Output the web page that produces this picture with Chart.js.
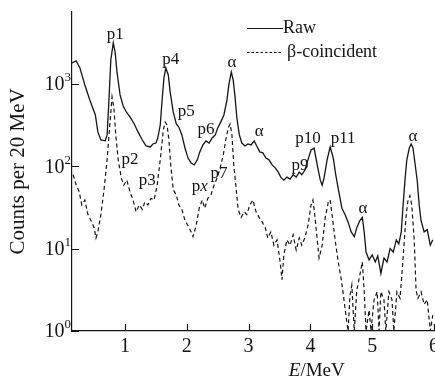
<!DOCTYPE html>
<html>
<head>
<meta charset="utf-8">
<script src="https://cdn.jsdelivr.net/npm/chart.js@4.4.0/dist/chart.umd.min.js"></script>
<style>
  html, body { margin: 0; padding: 0; background: #fff; overflow: hidden; }
</style>
</head>
<body>
<canvas id="spectrum" width="435" height="379"></canvas>
<script>
// raw spectrum (E in MeV, counts per 20 MeV)
const rawEnergy = [0.14,0.21,0.27,0.35,0.43,0.52,0.56,0.61,0.68,0.71,0.74,0.77,0.81,0.84,0.87,0.92,0.97,1.02,1.08,1.15,
  1.21,1.28,1.34,1.41,1.45,1.50,1.53,1.57,1.60,1.63,1.66,1.70,1.73,1.78,1.83,1.87,1.92,1.97,2.02,2.07,
  2.12,2.17,2.21,2.26,2.31,2.36,2.41,2.46,2.50,2.55,2.60,2.65,2.68,2.72,2.75,2.78,2.81,2.85,2.89,2.94,
  2.99,3.04,3.09,3.14,3.18,3.23,3.28,3.33,3.38,3.43,3.48,3.52,3.57,3.62,3.67,3.72,3.77,3.82,3.86,3.91,
  3.96,4.01,4.06,4.11,4.16,4.19,4.22,4.27,4.32,4.37,4.41,4.46,4.51,4.56,4.61,4.66,4.71,4.75,4.80,4.84,
  4.87,4.90,4.95,5.00,5.05,5.09,5.14,5.19,5.24,5.29,5.34,5.39,5.43,5.47,5.50,5.53,5.56,5.60,5.63,5.66,
  5.69,5.73,5.76,5.79,5.84,5.89,5.94,5.98];
const rawCounts = [1800,1910,1570,975,641,421,262,209,204,241,641,1960,3160,2450,1400,737,542,458,398,327,
  262,209,177,172,187,192,221,318,641,1186,1570,1290,802,458,327,301,241,167,126,110,
  104,120,150,182,204,192,221,241,293,347,421,641,975,1400,1122,697,387,241,192,177,
  187,182,204,172,150,146,126,120,104,96,85,74,68,74,70,79,74,85,79,90,
  120,158,167,104,68,59,72,120,172,126,79,49,31,26,21,16,14,18,22,24,
  16,9.1,7.3,8.4,6.9,8.2,5.0,7.7,6.9,10,9.1,12.8,11.4,16,34,68,120,167,187,167,
  113,65,34,22,16,17,11,12.8];

// beta-coincident spectrum (1 = empty channel, sits on the axis)
const betaEnergy = [0.16,0.21,0.26,0.30,0.35,0.40,0.45,0.50,0.53,0.56,0.61,0.66,0.71,0.76,0.79,0.82,0.85,0.89,0.94,0.98,
  1.03,1.08,1.13,1.18,1.23,1.28,1.32,1.37,1.42,1.47,1.52,1.57,1.62,1.65,1.68,1.71,1.74,1.78,1.83,1.87,
  1.92,1.97,2.02,2.07,2.10,2.15,2.20,2.25,2.29,2.34,2.39,2.44,2.49,2.54,2.59,2.63,2.67,2.70,2.73,2.76,
  2.80,2.83,2.88,2.93,2.97,3.02,3.07,3.12,3.17,3.22,3.27,3.31,3.36,3.41,3.46,3.51,3.54,3.57,3.62,3.67,
  3.72,3.77,3.82,3.86,3.91,3.96,4.01,4.04,4.07,4.11,4.14,4.19,4.24,4.29,4.32,4.35,4.40,4.45,4.50,4.54,
  4.58,4.61,4.64,4.67,4.71,4.75,4.80,4.84,4.87,4.90,4.95,4.98,5.03,5.08,5.11,5.14,5.19,5.22,5.27,5.32,
  5.35,5.40,5.45,5.48,5.52,5.55,5.58,5.61,5.64,5.68,5.71,5.74,5.79,5.84,5.89,5.94,5.98];
const betaCounts = [79,59,49,34,39,26,22,18,13.5,16,26,52,120,366,697,513,241,120,72,59,
  68,49,39,28,34,30,37,34,41,39,59,120,277,346,318,209,104,52,45,34,
  30,22,19,16,14,19,31,39,31,41,45,59,72,96,138,209,293,327,241,104,
  52,30,24,28,26,34,39,28,24,21,18,13.5,16,11,12.8,6.9,4.2,8.4,12.8,11,
  14.7,9.6,13.5,11,13.5,19,34,39,26,12.8,7.7,11,24,37,39,26,12.8,6.9,4.2,2.5,
  1.44,1,2.7,3.6,1,3.1,4.8,6.9,3.1,1,1.8,1,2.4,3.0,1,3.0,2.4,1,3.0,2.4,
  1,3.0,2.5,4.8,12.8,26,39,44,34,12.8,3.1,2.5,3.0,2.1,2.4,1,1.56];

const xTickValues = [1, 2, 3, 4, 5, 6];
const yTickExponents = [0, 1, 2, 3];

// peak annotations, placed in data units
const peakNames = ['p1', 'p2', 'p3', 'p4', 'p5', 'p6', 'px', 'p7', 'α', 'α', 'p9', 'p10', 'p11', 'α', 'α'];
const peakEnergy = [0.84, 1.08, 1.36, 1.74, 1.99, 2.31, 2.21, 2.52, 2.73, 3.17, 3.83, 3.96, 4.53, 4.85, 5.66];
const peakCounts = [3950, 120, 68, 1960, 458, 277, 57, 81, 1850, 262, 101, 215, 215, 31, 228];

const ink = '#141414';
const serif = '"Liberation Serif", "Times New Roman", serif';

function toPoints(xs, ys) {
  return xs.map((x, i) => ({ x: x, y: ys[i] }));
}

const decorations = {
  id: 'decorations',
  afterDraw(chart) {
    const ctx = chart.ctx;
    const xs = chart.scales.x;
    const ys = chart.scales.y;
    ctx.save();
    ctx.strokeStyle = ink;
    ctx.fillStyle = ink;
    ctx.lineWidth = 1.2;

    // inward tick marks
    ctx.beginPath();
    xs.ticks.forEach(t => {
      const px = Math.round(xs.getPixelForValue(t.value)) + 0.5;
      ctx.moveTo(px, ys.bottom);
      ctx.lineTo(px, ys.bottom - 7);
    });
    ys.ticks.forEach(t => {
      const py = Math.round(ys.getPixelForValue(t.value)) + 0.5;
      ctx.moveTo(xs.left, py);
      ctx.lineTo(xs.left + 7, py);
    });
    ctx.stroke();

    // y tick labels as 10 with superscript exponent
    ctx.textBaseline = 'middle';
    ctx.textAlign = 'right';
    yTickExponents.forEach(e => {
      const py = ys.getPixelForValue(10 ** e);
      ctx.font = '13px ' + serif;
      const w = ctx.measureText(String(e)).width;
      ctx.fillText(String(e), xs.left - 1, py - 6);
      ctx.font = '20px ' + serif;
      ctx.fillText('10', xs.left - 1 - w, py + 1);
    });

    // x axis title
    ctx.textAlign = 'left';
    const tx = xs.getPixelForValue(3.65);
    const ty = ys.bottom + 40;
    ctx.font = 'italic 19px ' + serif;
    ctx.fillText('E', tx, ty);
    const ew = ctx.measureText('E').width;
    ctx.font = '19px ' + serif;
    ctx.fillText('/MeV', tx + ew, ty);

    // peak labels
    ctx.textAlign = 'center';
    peakNames.forEach((name, i) => {
      const px = xs.getPixelForValue(peakEnergy[i]);
      const py = ys.getPixelForValue(peakCounts[i]);
      if (name === 'px') {
        ctx.font = '17px ' + serif;
        const pw = ctx.measureText('p').width;
        ctx.font = 'italic 17px ' + serif;
        const xw = ctx.measureText('x').width;
        ctx.textAlign = 'left';
        ctx.font = '17px ' + serif;
        ctx.fillText('p', px - (pw + xw) / 2, py);
        ctx.font = 'italic 17px ' + serif;
        ctx.fillText('x', px - (pw + xw) / 2 + pw, py);
        ctx.textAlign = 'center';
      } else {
        ctx.font = '17px ' + serif;
        ctx.fillText(name, px, py);
      }
    });

    // legend
    ctx.textAlign = 'left';
    ctx.font = '18px ' + serif;
    ctx.beginPath();
    ctx.moveTo(247, 28.5);
    ctx.lineTo(283, 28.5);
    ctx.stroke();
    ctx.fillText('Raw', 283, 28);
    ctx.setLineDash([2.5, 2]);
    ctx.lineWidth = 1;
    ctx.beginPath();
    ctx.moveTo(247, 52.5);
    ctx.lineTo(283, 52.5);
    ctx.stroke();
    ctx.fillText('β-coincident', 287, 52);
    ctx.restore();
  }
};

new Chart(document.getElementById('spectrum'), {
  type: 'line',
  data: {
    datasets: [
      {
        label: 'Raw',
        data: toPoints(rawEnergy, rawCounts),
        borderColor: ink,
        borderWidth: 1.3,
      },
      {
        label: 'β-coincident',
        data: toPoints(betaEnergy, betaCounts),
        borderColor: ink,
        borderWidth: 1.2,
        borderDash: [4, 3],
      },
    ],
  },
  options: {
    responsive: false,
    devicePixelRatio: 1,
    animation: false,
    layout: { padding: { top: 12, right: 0, bottom: 0, left: 0 } },
    elements: { point: { radius: 0 }, line: { tension: 0 } },
    plugins: { legend: { display: false }, tooltip: { enabled: false } },
    scales: {
      x: {
        type: 'linear',
        bounds: 'data',
        min: 0.142,
        max: 6.016,
        afterBuildTicks: s => { s.ticks = xTickValues.map(v => ({ value: v })); },
        afterFit: s => { s.height = 48; s.paddingLeft = 0; s.paddingRight = 0; },
        grid: { display: false, drawTicks: false },
        border: { display: true, color: ink, width: 1.2 },
        ticks: { color: ink, font: { family: serif, size: 20 }, padding: 4, maxRotation: 0, autoSkip: false },
      },
      y: {
        type: 'logarithmic',
        bounds: 'data',
        min: 1,
        max: 7500,
        afterBuildTicks: s => { s.ticks = yTickExponents.map(e => ({ value: 10 ** e })); },
        afterFit: s => { s.width = 72; },
        grid: { display: false, drawTicks: false },
        border: { display: true, color: ink, width: 1.2 },
        ticks: { display: false },
        title: {
          display: true,
          text: 'Counts per 20 MeV',
          color: ink,
          font: { family: serif, size: 21 },
          padding: { top: 6, bottom: 0 },
        },
      },
    },
  },
  plugins: [decorations],
});
</script>
</body>
</html>
